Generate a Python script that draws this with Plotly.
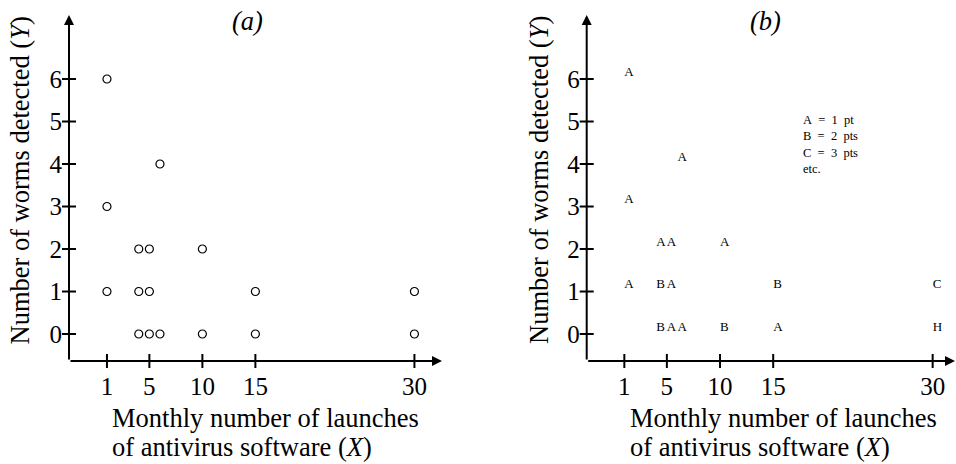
import plotly.graph_objects as go

# monthly launches of antivirus (X), worms detected (Y), machines at each point
launches = [1, 1, 1, 4, 4, 4, 5, 5, 5, 6, 6, 10, 10, 15, 15, 30, 30]
worms = [6, 3, 1, 2, 1, 0, 2, 1, 0, 4, 0, 2, 0, 1, 0, 1, 0]
counts = [1, 1, 1, 1, 2, 2, 1, 1, 1, 1, 1, 1, 2, 2, 1, 3, 8]

x_ticks = [1, 5, 10, 15, 30]
y_ticks = [0, 1, 2, 3, 4, 5, 6]
key_lines = ["A\u00a0\u00a0=\u00a0\u00a01\u00a0\u00a0pt",
             "B\u00a0\u00a0=\u00a0\u00a02\u00a0\u00a0pts",
             "C\u00a0\u00a0=\u00a0\u00a03\u00a0\u00a0pts",
             "etc."]

letters = [chr(ord("A") + c - 1) for c in counts]

FONT = "Liberation Serif"
W, H = 956, 464

xr_a = [-2.58, 32.6]
xr_b = [-2.54, 32.1]
yr = [-0.635, 7.506]

fig = go.Figure()

# (a) open circles
fig.add_trace(go.Scatter(
    x=launches, y=worms, mode="markers", xaxis="x", yaxis="y",
    marker=dict(symbol="circle-open", size=8, color="black", line=dict(width=1.2)),
    showlegend=False, hoverinfo="skip"))

# (b) letter plot
fig.add_trace(go.Scatter(
    x=launches, y=worms, mode="text", text=letters, textposition="top right",
    xaxis="x2", yaxis="y2", textfont=dict(family=FONT, size=13, color="black"),
    showlegend=False, hoverinfo="skip"))

# crossing tick marks on both panels
for xa, ya, xr in [("x", "y", xr_a), ("x2", "y2", xr_b)]:
    fig.add_trace(go.Scatter(
        x=x_ticks, y=[yr[0]] * len(x_ticks), mode="markers", xaxis=xa, yaxis=ya,
        marker=dict(symbol="line-ns", size=10, line=dict(width=2, color="black")),
        cliponaxis=False, showlegend=False, hoverinfo="skip"))
    fig.add_trace(go.Scatter(
        x=[xr[0]] * len(y_ticks), y=y_ticks, mode="markers", xaxis=xa, yaxis=ya,
        marker=dict(symbol="line-ew", size=10, line=dict(width=2, color="black")),
        cliponaxis=False, showlegend=False, hoverinfo="skip"))

    # axis lines with arrow heads
    fig.add_annotation(x=xr[0], y=yr[1], ax=xr[0], ay=yr[0], xref=xa, yref=ya,
                       axref=xa, ayref=ya, text="", showarrow=True,
                       arrowhead=2, arrowsize=1, arrowwidth=2, arrowcolor="black")
    fig.add_annotation(x=xr[1], y=yr[0], ax=xr[0], ay=yr[0], xref=xa, yref=ya,
                       axref=xa, ayref=ya, text="", showarrow=True,
                       arrowhead=2, arrowsize=1, arrowwidth=2, arrowcolor="black")

tickfont = dict(family=FONT, size=25, color="black")
ax_common = dict(showgrid=False, zeroline=False, showline=False, ticks="",
                 tickfont=tickfont)

fig.update_layout(
    width=W, height=H, margin=dict(l=0, r=0, t=0, b=0),
    paper_bgcolor="white", plot_bgcolor="white",
    xaxis=dict(domain=[69 / W, 442 / W], range=xr_a, anchor="y",
               tickvals=x_ticks, ticktext=[str(v) for v in x_ticks],
               ticklabelstandoff=8, **ax_common),
    yaxis=dict(domain=[(H - 361) / H, (H - 15) / H], range=yr, anchor="x",
               tickvals=y_ticks, ticktext=[str(v) for v in y_ticks],
               ticklabelstandoff=6, **ax_common),
    xaxis2=dict(domain=[586.7 / W, 955 / W], range=xr_b, anchor="y2",
                tickvals=x_ticks, ticktext=[str(v) for v in x_ticks],
                ticklabelstandoff=8, **ax_common),
    yaxis2=dict(domain=[(H - 361) / H, (H - 15) / H], range=yr, anchor="x2",
                tickvals=y_ticks, ticktext=[str(v) for v in y_ticks],
                ticklabelstandoff=6, **ax_common),
)

tfont = dict(family=FONT, size=26.5, color="black")
for cx, lx in [(20, 110), (539.5, 628)]:
    fig.add_annotation(x=cx / W, y=(H - 180.5) / H, xref="paper", yref="paper",
                       text="Number of worms detected (<i>Y</i>)", textangle=-90,
                       showarrow=False, font=tfont, xanchor="center", yanchor="middle")
    fig.add_annotation(x=lx / W, y=(H - 418) / H, xref="paper", yref="paper",
                       text="Monthly number of launches", showarrow=False,
                       font=tfont, xanchor="left", yanchor="middle")
    fig.add_annotation(x=lx / W, y=(H - 447) / H, xref="paper", yref="paper",
                       text="of antivirus software (<i>X</i>)", showarrow=False,
                       font=tfont, xanchor="left", yanchor="middle")

fig.add_annotation(x=247 / W, y=(H - 21) / H, xref="paper", yref="paper",
                   text="<i>(a)</i>", showarrow=False, font=tfont,
                   xanchor="center", yanchor="middle")
fig.add_annotation(x=765 / W, y=(H - 21) / H, xref="paper", yref="paper",
                   text="<i>(b)</i>", showarrow=False, font=tfont,
                   xanchor="center", yanchor="middle")

# key for the letter plot
fig.add_annotation(x=17.6, y=5.25, xref="x2", yref="y2", text="<br>".join(key_lines),
                   showarrow=False, align="left", xanchor="left", yanchor="top",
                   font=dict(family=FONT, size=12.5, color="black"))

fig.write_html("out.html", config={"displayModeBar": False},
               post_script="document.body.style.margin = '0';")
